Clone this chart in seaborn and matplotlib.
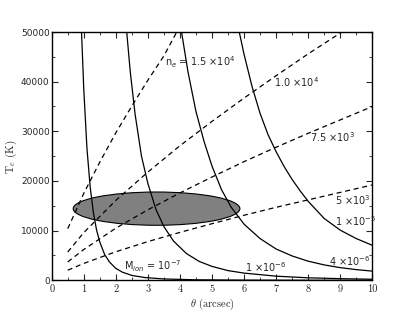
import matplotlib
matplotlib.use("Agg")
import matplotlib.pyplot as plt
import seaborn as sns
from matplotlib.patches import Ellipse
from matplotlib.ticker import MultipleLocator

# ionised-mass contours (solid), theta in arcsec, T_e in K
theta_m7 = [0.93, 1.0, 1.1, 1.2, 1.3, 1.4, 1.5, 1.65, 1.8, 2.0, 2.2, 2.5, 2.9, 3.5, 4.5, 6.0, 8.0, 10.0]
te_m7 = [50000, 38500, 26500, 18800, 13600, 10100, 7700, 5200, 3700, 2400, 1650, 980, 560, 270, 100, 35, 12, 5]

theta_1m6 = [2.34, 2.45, 2.6, 2.8, 3.0, 3.25, 3.5, 3.8, 4.2, 4.6, 5.0, 5.5, 6.0, 7.0, 8.0, 9.0, 10.0]
te_1m6 = [50000, 42000, 33500, 25000, 19500, 14300, 10800, 7900, 5400, 3800, 2800, 1950, 1450, 830, 500, 330, 210]

theta_4m6 = [4.05, 4.25, 4.5, 4.75, 5.0, 5.3, 5.6, 6.0, 6.5, 7.0, 7.5, 8.0, 8.5, 9.0, 9.5, 10.0]
te_4m6 = [50000, 42000, 34000, 28000, 23000, 18200, 14700, 11300, 8400, 6300, 4900, 3850, 3100, 2550, 2150, 1850]

theta_1m5 = [5.85, 6.0, 6.25, 6.5, 6.75, 7.0, 7.25, 7.5, 7.75, 8.0, 8.5, 9.0, 9.5, 10.0]
te_1m5 = [50000, 45500, 39000, 33600, 29300, 25900, 22900, 20300, 18000, 15900, 12450, 10100, 8400, 7050]

# electron-density contours (dashed)
theta_n15 = [0.5, 1.0, 1.5, 2.0, 2.5, 3.0, 3.5, 3.9]
te_n15 = [10400, 17500, 23800, 29700, 35100, 40300, 45200, 50000]

theta_n10 = [0.5, 1.0, 2.0, 3.0, 4.0, 5.0, 6.0, 7.0, 8.0, 9.05]
te_n10 = [5700, 9600, 16100, 21800, 27100, 32000, 36700, 41200, 45600, 50000]

theta_n75 = [0.5, 1, 2, 3, 4, 5, 6, 7, 8, 9, 10]
te_n75 = [3700, 6200, 10500, 14200, 17600, 20800, 23900, 26800, 29600, 32300, 35000]

theta_n5 = [0.5, 1, 2, 3, 4, 5, 6, 7, 8, 9, 10]
te_n5 = [2030, 3400, 5750, 7800, 9650, 11400, 13100, 14700, 16200, 17700, 19200]

# observed region (ellipse)
obs_center = (3.27, 14430)
obs_width = 5.2
obs_height = 6700

sns.set_style("ticks")
plt.rcParams.update({
    "xtick.direction": "in", "ytick.direction": "in",
    "xtick.top": True, "ytick.right": True,
    "xtick.major.size": 4, "ytick.major.size": 4,
    "xtick.minor.size": 2, "ytick.minor.size": 2,
    "axes.linewidth": 1.0, "axes.edgecolor": "black",
})
plt.rcParams["font.family"] = ["DejaVu Sans"]

fig = plt.figure(figsize=(4.15, 3.12), dpi=100)
ax = fig.add_axes([0.1246, 0.1016, 0.7725, 0.7958])

ell = Ellipse(obs_center, obs_width, obs_height, facecolor="#808080",
              edgecolor="black", lw=0.8, zorder=1)
ax.add_patch(ell)

for th, te in [(theta_m7, te_m7), (theta_1m6, te_1m6), (theta_4m6, te_4m6), (theta_1m5, te_1m5)]:
    sns.lineplot(x=th, y=te, ax=ax, color="black", lw=0.9, sort=False, estimator=None, zorder=3)

for th, te in [(theta_n15, te_n15), (theta_n10, te_n10), (theta_n75, te_n75), (theta_n5, te_n5)]:
    sns.lineplot(x=th, y=te, ax=ax, color="black", lw=0.9, sort=False, estimator=None,
                 linestyle=(0, (4, 3)), zorder=3)

ax.set_xlim(0, 10)
ax.set_ylim(0, 50000)
ax.xaxis.set_major_locator(MultipleLocator(1))
ax.xaxis.set_minor_locator(MultipleLocator(0.5))
ax.yaxis.set_major_locator(MultipleLocator(10000))
ax.yaxis.set_minor_locator(MultipleLocator(5000))
ax.tick_params(axis="x", which="both", top=True, pad=3)
ax.tick_params(axis="y", which="both", right=True, pad=1.5, labelsize=6.5)
for lab in ax.get_xticklabels():
    lab.set_fontfamily("cmr10")
    lab.set_fontsize(7.5)

ax.set_xlabel(r"$\theta$ (arcsec)", fontfamily="cmr10", math_fontfamily="cm", fontsize=7.5, labelpad=2)
ax.set_ylabel(r"T$_e$ (K)", fontfamily="cmr10", math_fontfamily="cm", fontsize=8, labelpad=1)

ann = dict(fontsize=7, va="center", ha="left", math_fontfamily="dejavusans", zorder=4)
ax.text(3.53, 43970, r"n$_e$ = 1.5 $\times$10$^4$", **ann)
ax.text(6.94, 39900, r"1.0 $\times$10$^4$", **ann)
ax.text(8.06, 28860, r"7.5 $\times$10$^3$", **ann)
ax.text(8.84, 16170, r"5 $\times$10$^3$", **ann)
ax.text(8.84, 11940, r"1 $\times$10$^{-5}$", **ann)
ax.text(8.65, 3890, r"4 $\times$10$^{-6}$", **ann)
ax.text(6.03, 2740, r"1 $\times$10$^{-6}$", **ann)
ax.text(2.24, 2740, r"M$_{ion}$ = 10$^{-7}$", **ann)

fig.savefig("out.png", dpi=100)
